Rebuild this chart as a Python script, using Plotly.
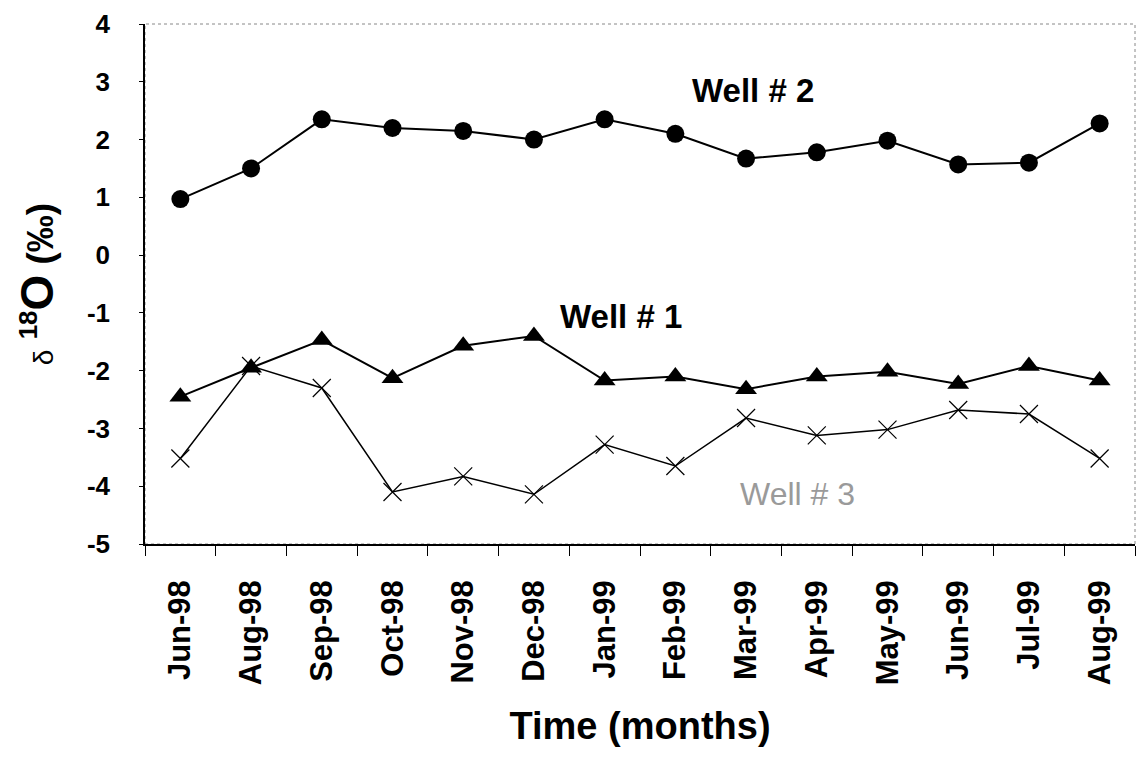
import plotly.graph_objects as go

months = ["Jun-98", "Aug-98", "Sep-98", "Oct-98", "Nov-98", "Dec-98", "Jan-99",
          "Feb-99", "Mar-99", "Apr-99", "May-99", "Jun-99", "Jul-99", "Aug-99"]
well1 = [-2.45, -1.95, -1.47, -2.13, -1.57, -1.40, -2.17, -2.10, -2.32, -2.10, -2.02, -2.23, -1.92, -2.17]
well2 = [0.97, 1.50, 2.35, 2.20, 2.15, 2.00, 2.35, 2.10, 1.67, 1.78, 1.98, 1.57, 1.60, 2.28]
well3 = [-3.52, -1.92, -2.30, -4.10, -3.83, -4.14, -3.28, -3.65, -2.82, -3.12, -3.02, -2.68, -2.75, -3.52]
y_ticks = [4, 3, 2, 1, 0, -1, -2, -3, -4, -5]
y_tick_text = ["4", "3", "2", "1", "0", "-1", "-2", "-3", "-4", "-5"]

FONT = "Arial, Liberation Sans, sans-serif"

fig = go.Figure()
fig.add_trace(go.Scatter(x=months, y=well3, mode="lines+markers",
                         line=dict(color="black", width=1.5),
                         marker=dict(symbol="x-thin-open", size=18, color="black",
                                     line=dict(color="black", width=1.2)),
                         name="Well # 3"))
fig.add_trace(go.Scatter(x=months, y=well1, mode="lines+markers",
                         line=dict(color="black", width=2),
                         marker=dict(symbol="triangle-up", size=19, color="black"),
                         name="Well # 1"))
fig.add_trace(go.Scatter(x=months, y=well2, mode="lines+markers",
                         line=dict(color="black", width=2),
                         marker=dict(symbol="circle", size=18, color="black"),
                         name="Well # 2"))

# dotted frame (top/right)
fig.add_shape(type="rect", xref="paper", yref="paper", x0=0, y0=0, x1=1, y1=1,
              line=dict(color="#888888", width=1, dash="dot"), layer="below")

fig.add_annotation(x=8.1, y=2.85, text="<b>Well # 2</b>", showarrow=False,
                   xanchor="center", yanchor="middle",
                   font=dict(family=FONT, size=33, color="black"))
fig.add_annotation(x=6.23, y=-1.07, text="<b>Well # 1</b>", showarrow=False,
                   xanchor="center", yanchor="middle",
                   font=dict(family=FONT, size=33, color="black"))
fig.add_annotation(x=8.73, y=-4.14, text="Well # 3", showarrow=False,
                   xanchor="center", yanchor="middle",
                   font=dict(family=FONT, size=32, color="#9a9a9a"))

fig.update_layout(
    width=1144, height=757,
    margin=dict(l=145, r=9, t=22, b=213),
    paper_bgcolor="white", plot_bgcolor="white",
    showlegend=False,
    font=dict(family=FONT, color="black"),
    xaxis=dict(
        type="category", categoryorder="array", categoryarray=months,
        range=[-0.5, 13.5], tickson="boundaries",
        ticks="outside", ticklen=10, tickcolor="black", ticklabelstandoff=22,
        tickangle=-90, tickfont=dict(family=FONT, size=31, color="black", weight="bold"),
        showline=True, linecolor="black", linewidth=1.5, showgrid=False,
        title=dict(text="<b>Time (months)</b>", font=dict(family=FONT, size=38), standoff=28),
    ),
    yaxis=dict(
        range=[-5, 4], tickvals=y_ticks, ticktext=y_tick_text,
        ticks="outside", ticklen=4, tickcolor="black", ticklabelstandoff=24,
        tickfont=dict(family=FONT, size=26, color="black", weight="bold"),
        showline=True, linecolor="black", linewidth=1.5, showgrid=False, zeroline=False,
        title=dict(text="<span style='font-size:28px'>δ</span> <b><sup>18</sup><span style='font-size:46px'>O</span> (‰)</b>",
                   font=dict(family=FONT, size=37), standoff=22),
    ),
)

fig.write_html("out.html")
